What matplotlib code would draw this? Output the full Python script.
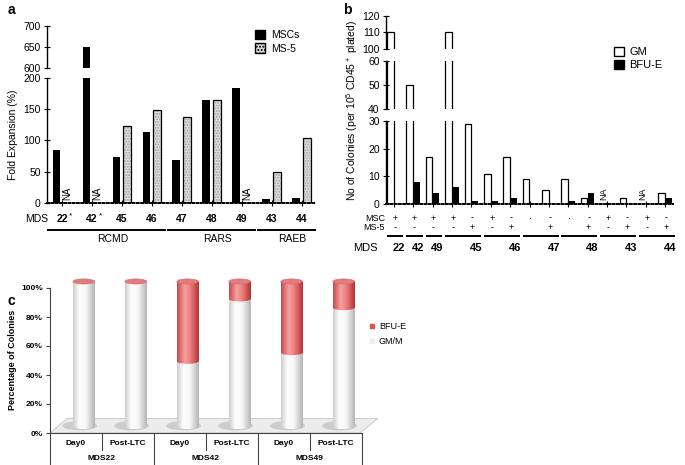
import numpy as np
import matplotlib
matplotlib.use('Agg')
import matplotlib.pyplot as plt
from matplotlib.patches import Ellipse, Polygon, Patch
from matplotlib.lines import Line2D
from matplotlib.colors import LinearSegmentedColormap

plt.rcParams['font.family'] = ['Liberation Sans', 'DejaVu Sans']
plt.rcParams['mathtext.fontset'] = 'custom'
plt.rcParams['mathtext.rm'] = 'Liberation Sans'
plt.rcParams['mathtext.default'] = 'regular'
plt.rcParams['axes.linewidth'] = 1.0

W, H = 685, 465

# panel a: fold expansion of MDS cells on MSCs / MS-5
a_mds = ['22', '42', '45', '46', '47', '48', '49', '43', '44']
a_star = ['*', '*', '', '', '', '', '', '', '']
a_msc = [84, 650, 74, 114, 69, 164, 184, 7, 8]
a_ms5 = [np.nan, np.nan, 123, 148, 138, 165, np.nan, 49, 104]
a_groups = ['RCMD', 'RARS', 'RAEB']
a_group_size = [4, 3, 2]

# panel b: colonies per condition
b_mds = ['22', '42', '49', '45', '46', '47', '48', '43', '44']
b_group_size = [1, 1, 1, 2, 2, 2, 2, 2, 2]
b_msc = ['+', '+', '+', '+', '-', '+', '-', '·', '-', '·', '-', '+', '-', '+', '-']
b_ms5 = ['-', '-', '-', '-', '+', '-', '+', '', '+', '', '+', '-', '+', '-', '+']
b_gm = [110, 50, 17, 110, 29, 11, 17, 9, 5, 9, 2, np.nan, 2, np.nan, 4]
b_bfu = [0, 8, 4, 6, 1, 1, 2, 0, 0, 1, 4, np.nan, 0, np.nan, 2]

# panel c: percentage of colonies
c_samples = ['MDS22', 'MDS42', 'MDS49']
c_times = ['Day0', 'Post-LTC']
c_gmm = [100, 100, 45, 88, 51, 82]
c_bfue = [0, 0, 55, 12, 49, 18]


def box(x0, y0, x1, y1):
    # pixel box (top-left origin) -> figure rect
    return [x0 / W, 1 - y1 / H, (x1 - x0) / W, (y1 - y0) / H]


fig = plt.figure(figsize=(W / 100, H / 100), dpi=100)

# ---------------- panel a ----------------
xa = np.arange(len(a_mds))
msc = np.array(a_msc, float)
ms5 = np.array(a_ms5, float)
ok = ~np.isnan(ms5)

ax_lo = fig.add_axes(box(47, 78, 315, 203))
ax_hi = fig.add_axes(box(47, 26, 315, 68))
for ax in (ax_lo, ax_hi):
    ax.bar(xa - 0.18, msc, 0.26, color='black', zorder=2)
    ax.bar(xa[ok] + 0.18, ms5[ok], 0.26, facecolor='#dedede', edgecolor='#a6a6a6',
           hatch='......', lw=0, zorder=2)
    ax.bar(xa[ok] + 0.18, ms5[ok], 0.26, fill=False, edgecolor='black', lw=0.9, zorder=3)
    ax.set_xlim(-0.5, 8.45)
    ax.spines[['top', 'right']].set_visible(False)
    ax.tick_params(axis='y', direction='inout', length=5, labelsize=7.5, pad=2)
ax_lo.set_ylim(0, 200)
ax_lo.set_yticks([0, 50, 100, 150, 200])
ax_hi.set_ylim(600, 700)
ax_hi.set_yticks([600, 650, 700])
ax_hi.spines['bottom'].set_visible(False)
ax_hi.set_xticks([])
ax_lo.spines['bottom'].set_linestyle((0, (1, 1.2)))
ax_lo.spines['bottom'].set_linewidth(1.4)
ax_lo.set_xticks(xa)
ax_lo.set_xticklabels([])
ax_lo.tick_params(axis='x', direction='inout', length=4)

for i in xa[~ok]:
    ax_lo.text(i + 0.18, 5, 'NA', rotation=90, ha='center', va='bottom', fontsize=7)

ta = ax_lo.get_xaxis_transform()
ax_lo.text(-0.83, -0.13, 'MDS', transform=ta, ha='center', va='center', fontsize=7.5)
for i, (m, s) in enumerate(zip(a_mds, a_star)):
    ax_lo.text(i, -0.13, m, transform=ta, ha='center', va='center', fontsize=7.5,
               fontweight='bold')
    if s:
        ax_lo.text(i + 0.28, -0.1, s, transform=ta, ha='center', va='center', fontsize=6)
start = 0
for g, n in zip(a_groups, a_group_size):
    x0, x1 = start - 0.45, start + n - 1 + 0.45
    ax_lo.plot([x0, x1], [-0.216, -0.216], transform=ta, color='black', lw=1.4,
               clip_on=False)
    ax_lo.text((x0 + x1) / 2 + 0.2, -0.285, g, transform=ta, ha='center', va='center',
               fontsize=7.5)
    start += n

fig.legend(handles=[Patch(facecolor='black', edgecolor='black'),
                    Patch(facecolor='#dedede', edgecolor='black', hatch='.....')],
           labels=['MSCs', 'MS-5'], loc='upper left', bbox_to_anchor=(255 / W, 1 - 30 / H),
           frameon=False, fontsize=7.5, handlelength=1, handleheight=1,
           handletextpad=0.5, labelspacing=0.3, borderaxespad=0, borderpad=0)
fig.text(13 / W, 1 - 135 / H, 'Fold Expansion (%)', rotation=90, ha='center',
         va='center', fontsize=7.5)

# ---------------- panel b ----------------
xb = np.arange(len(b_gm))
gm = np.array(b_gm, float)
bfu = np.array(b_bfu, float)
okb = ~np.isnan(gm)

b_axes = [fig.add_axes(box(386, 121, 673, 204)),
          fig.add_axes(box(386, 61, 673, 109)),
          fig.add_axes(box(386, 16, 673, 49))]
b_lims = [(0, 30), (40, 60), (100, 120)]
b_ticks = [[0, 10, 20, 30], [40, 50, 60], [100, 110, 120]]
for k, (ax, lim, tk) in enumerate(zip(b_axes, b_lims, b_ticks)):
    ax.bar(xb[okb] - 0.18, gm[okb], 0.34, facecolor='white', edgecolor='black', lw=0.9)
    ax.bar(xb[okb] + 0.18, bfu[okb], 0.34, color='black')
    ax.set_xlim(-0.4, 14.4)
    ax.set_ylim(*lim)
    ax.set_yticks(tk)
    ax.spines[['top', 'right']].set_visible(False)
    ax.tick_params(axis='y', direction='inout', length=5, labelsize=7.5, pad=2)
    if k > 0:
        ax.spines['bottom'].set_visible(False)
        ax.set_xticks([])
b_lo = b_axes[0]
b_lo.spines['bottom'].set_linestyle((0, (1, 1.2)))
b_lo.spines['bottom'].set_linewidth(1.4)
b_lo.set_xticks(xb)
b_lo.set_xticklabels([])
b_lo.tick_params(axis='x', direction='inout', length=4)

for i in xb[~okb]:
    b_lo.text(i - 0.18, 1.5, 'NA', rotation=90, ha='center', va='bottom', fontsize=6.5)

tb = b_lo.get_xaxis_transform()
b_lo.text(-0.45, -0.169, 'MSC', transform=tb, ha='right', va='center', fontsize=6.5)
b_lo.text(-0.45, -0.289, 'MS-5', transform=tb, ha='right', va='center', fontsize=6.5)
for i, (p, q) in enumerate(zip(b_msc, b_ms5)):
    b_lo.text(i + 0.05, -0.169, p, transform=tb, ha='center', va='center', fontsize=6.5)
    b_lo.text(i + 0.05, -0.289, q, transform=tb, ha='center', va='center', fontsize=6.5)
b_lo.text(-1.45, -0.53, 'MDS', transform=tb, ha='center', va='center', fontsize=8)
start = 0
for m, n in zip(b_mds, b_group_size):
    first, last = start, start + n - 1
    b_lo.plot([first - 0.3, last + 0.45], [-0.386, -0.386], transform=tb, color='black',
              lw=1.4, clip_on=False)
    b_lo.text(last + 0.25, -0.53, m, transform=tb, ha='center', va='center', fontsize=8,
              fontweight='bold')
    start += n

fig.legend(handles=[Patch(facecolor='white', edgecolor='black'),
                    Patch(facecolor='black', edgecolor='black')],
           labels=['GM', 'BFU-E'], loc='upper left', bbox_to_anchor=(614 / W, 1 - 47 / H),
           frameon=False, fontsize=8, handlelength=0.9, handleheight=0.9,
           handletextpad=0.5, labelspacing=0.2, borderaxespad=0, borderpad=0)
fig.text(352 / W, 1 - 110 / H, 'No of Colonies (per 10$^5$ CD45$^+$ plated)', rotation=90,
         ha='center', va='center', fontsize=7.5)

# ---------------- panel c ----------------
ytop = 108
axc = fig.add_axes(box(50, 433 - ytop * 1.45, 380, 433))
axc.spines[['top', 'right']].set_visible(False)
axc.spines['left'].set_bounds(0, 100)
axc.spines['bottom'].set_bounds(-0.5, 5.5)
axc.spines['left'].set_color('#444444')
axc.spines['bottom'].set_color('#444444')
axc.spines['left'].set_linewidth(0.8)
axc.spines['bottom'].set_linewidth(0.8)
axc.set_yticks(range(0, 101, 20))
axc.set_yticklabels([f'{v}%' for v in range(0, 101, 20)], fontsize=6, fontweight='bold')
axc.tick_params(axis='y', direction='out', length=3, width=0.8, pad=2, color='#444444')
axc.set_xticks([])

floor = Polygon([(-0.5, 0), (5.46, 0), (5.81, 10), (-0.17, 10)], closed=True,
                facecolor='#ececec', edgecolor='#c4c4c4', lw=0.6, zorder=1)
axc.add_patch(floor)

white_cm = LinearSegmentedColormap.from_list(
    'cyl_w', [(0, '#cdcdcd'), (0.3, '#ffffff'), (0.6, '#f7f7f7'), (1, '#b4b4b4')])
red_cm = LinearSegmentedColormap.from_list(
    'cyl_r', [(0, '#c94848'), (0.35, '#f6a0a0'), (0.6, '#ec8080'), (1, '#b53232')])
grad = np.linspace(0, 1, 128).reshape(1, -1)


def fill_grad(patch, cmap, ext, z):
    im = axc.imshow(grad, cmap=cmap, extent=ext, aspect='auto', zorder=z,
                    interpolation='bilinear')
    im.set_clip_path(patch)


xc = np.arange(len(c_gmm)) + 0.15
cw, base, eh = 0.42, 4.5, 3.6
gmm = np.array(c_gmm, float)
bfe = np.array(c_bfue, float)
gm_bars = axc.bar(xc, gmm, cw, bottom=base, color='none', lw=0, zorder=3)
bf_bars = axc.bar(xc, bfe, cw, bottom=base + gmm, color='none', lw=0, zorder=3)

for i, x in enumerate(xc):
    axc.add_patch(Ellipse((x - 0.08, base + 0.5), cw * 1.6, eh * 1.8, facecolor='#a8a8a8',
                          alpha=0.45, lw=0, zorder=2))
    ext_x = (x - cw / 2, x + cw / 2)
    e_bot = Ellipse((x, base), cw, eh, facecolor='none', lw=0, zorder=3)
    axc.add_patch(e_bot)
    fill_grad(e_bot, white_cm, (*ext_x, base - eh, base + eh), 3)
    fill_grad(gm_bars[i], white_cm, (*ext_x, base, base + gmm[i]), 4)
    if bfe[i] > 0:
        y0 = base + gmm[i]
        fill_grad(bf_bars[i], red_cm, (*ext_x, y0, y0 + bfe[i]), 5)
        e_mid = Ellipse((x, y0), cw, eh, facecolor='none', lw=0, zorder=5)
        axc.add_patch(e_mid)
        fill_grad(e_mid, red_cm, (*ext_x, y0 - eh, y0 + eh), 5)
    axc.add_patch(Ellipse((x, base + gmm[i] + bfe[i]), cw, eh, facecolor='#e27c7c',
                          edgecolor='#c95e5e', lw=0.3, zorder=6))

axc.set_xlim(-0.5, 5.85)
axc.set_ylim(0, ytop)

tc = axc.get_xaxis_transform()
for k in range(7):
    axc.plot([k - 0.5, k - 0.5], [0, -0.109 if k % 2 else -0.204], transform=tc,
             color='#444444', lw=0.8, clip_on=False)
for i, t in enumerate(c_times * len(c_samples)):
    axc.text(i, -0.064, t, transform=tc, ha='center', va='center', fontsize=6,
             fontweight='bold')
for j, s in enumerate(c_samples):
    axc.text(2 * j + 0.5, -0.16, s, transform=tc, ha='center', va='center', fontsize=6,
             fontweight='bold')

fig.legend(handles=[Line2D([], [], marker='s', ls='', color='#d9534f', ms=3),
                    Line2D([], [], marker='s', ls='', color='#eeeeee', ms=3)],
           labels=['BFU-E', 'GM/M'], loc='upper left', bbox_to_anchor=(368 / W, 1 - 322 / H),
           frameon=False, fontsize=6.5, handlelength=0.8, handletextpad=0.4,
           labelspacing=0.7, borderaxespad=0, borderpad=0)
fig.text(13 / W, 1 - 360 / H, 'Percentage of Colonies', rotation=90, ha='center',
         va='center', fontsize=6.5, fontweight='bold')

# panel letters
fig.text(8 / W, 1 - 10 / H, 'a', fontsize=10, fontweight='bold', va='center')
fig.text(343 / W, 1 - 10 / H, 'b', fontsize=10, fontweight='bold', va='center')
fig.text(8 / W, 1 - 301 / H, 'c', fontsize=10, fontweight='bold', va='center')

fig.savefig('out.png', dpi=100, facecolor='white')
plt.close(fig)
